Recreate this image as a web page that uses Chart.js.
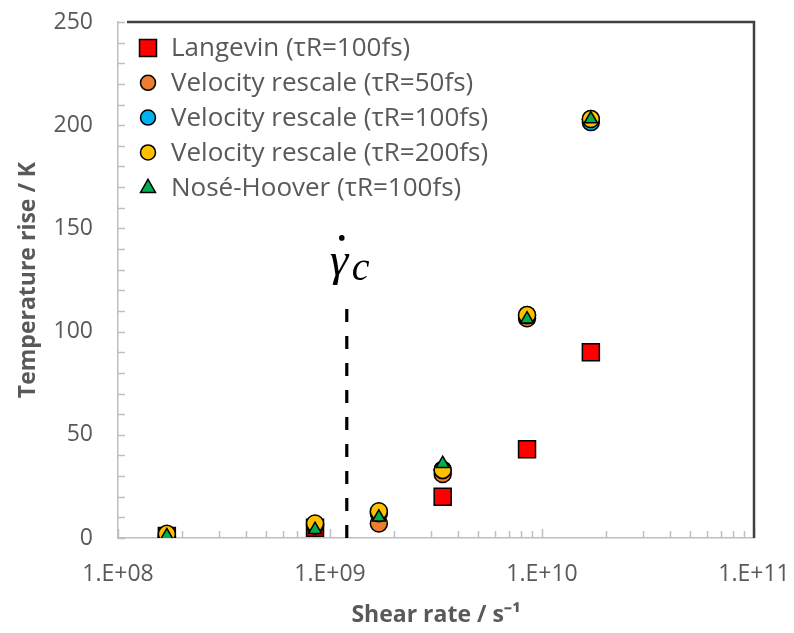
<!DOCTYPE html>
<html>
<head>
<meta charset="utf-8">
<script src="https://cdn.jsdelivr.net/npm/chart.js@4.4.1/dist/chart.umd.min.js"></script>
<style>
  html, body { margin: 0; padding: 0; background: #fff; }
  #wrap { width: 794px; height: 633px; }
</style>
</head>
<body>
<div id="wrap"><canvas id="tempChart" width="794" height="633"></canvas></div>
<script>
// shear rates (s^-1) of the simulations
const shearRates = [1.7e8, 8.5e8, 1.7e9, 3.4e9, 8.5e9, 1.7e10];

// temperature rise (K) per thermostat
const langevin   = [1, 5, null, 20, 43, 90];
const vr50       = [1, 6, 7, 31, 106.5, 203];
const vr100      = [1, 6.5, 12, 33, 108, 201.5];
const vr200      = [2, 7, 13, 33, 108, 203];
const noseHoover = [1, 4, 10, 36, 106, 203];

const seriesLabels = [
    'Langevin (τR=100fs)',
    'Velocity rescale (τR=50fs)',
    'Velocity rescale (τR=100fs)',
    'Velocity rescale (τR=200fs)',
    'Nosé-Hoover (τR=100fs)'
];

// critical shear rate marker
const criticalRate = 1.2e9;
const criticalLine = [0, 111];

// axis ticks
const xDecades = [1e8, 1e9, 1e10, 1e11];
const xMinorSteps = [1, 2, 3, 4, 5, 6, 7, 8, 9];
const yMax = 250;
const yMinorStep = 10;
const yLabelStep = 50;

const textGrey = '#595959';
const axisGrey = '#BFBFBF';
const fontFam = '"Open Sans", sans-serif';

function toPoints(ys) {
    return shearRates.map((x, i) => ({ x: x, y: ys[i] })).filter(p => p.y !== null);
}

function sci(v) {
    const e = Math.round(Math.log10(v));
    if (Math.abs(v / Math.pow(10, e) - 1) > 1e-9) return '';
    return '1.E+' + String(e).padStart(2, '0');
}

function drawMarker(ctx, shape, cx, cy, size, fill) {
    ctx.beginPath();
    if (shape === 'rect') {
        ctx.rect(cx - size / 2, cy - size / 2, size, size);
    } else if (shape === 'circle') {
        ctx.arc(cx, cy, size / 2, 0, Math.PI * 2);
    } else {
        const h = size * 0.87;
        ctx.moveTo(cx, cy - h * 0.6);
        ctx.lineTo(cx + size / 2, cy + h * 0.4);
        ctx.lineTo(cx - size / 2, cy + h * 0.4);
        ctx.closePath();
    }
    ctx.fillStyle = fill;
    ctx.fill();
    ctx.lineWidth = 1.5;
    ctx.strokeStyle = '#000';
    ctx.stroke();
}

// inward tick marks, top/right frame, legend, gamma-dot label
const extras = {
    id: 'extras',
    beforeDatasetsDraw(chart) {
        const { ctx, chartArea: a, scales: { x, y } } = chart;
        ctx.save();
        ctx.strokeStyle = axisGrey;
        ctx.lineWidth = 1.5;
        x.ticks.forEach(t => {
            const px = Math.round(x.getPixelForValue(t.value)) + 0.5;
            const len = sci(t.value) ? 9 : 7;
            ctx.beginPath();
            ctx.moveTo(px, a.bottom);
            ctx.lineTo(px, a.bottom - len);
            ctx.stroke();
        });
        y.ticks.forEach(t => {
            const py = Math.round(y.getPixelForValue(t.value)) + 0.5;
            ctx.beginPath();
            ctx.moveTo(a.left, py);
            ctx.lineTo(a.left + 7, py);
            ctx.stroke();
        });
        ctx.strokeStyle = '#404040';
        ctx.lineWidth = 2.5;
        ctx.beginPath();
        ctx.moveTo(a.left + 9, a.top);
        ctx.lineTo(a.right, a.top);
        ctx.lineTo(a.right, a.bottom);
        ctx.stroke();
        ctx.restore();
    },
    afterDraw(chart) {
        const { ctx, chartArea: a, scales: { x, y } } = chart;
        ctx.save();
        // legend
        const sizes = { rect: 17, circle: 15, triangle: 15 };
        ctx.font = '26px ' + fontFam;
        ctx.textBaseline = 'middle';
        chart.data.datasets.forEach((ds, i) => {
            if (i >= seriesLabels.length) return;
            const cy = a.top + 26 + i * 34.8;
            drawMarker(ctx, ds.pointStyle, a.left + 30, cy, sizes[ds.pointStyle], ds.backgroundColor);
            ctx.fillStyle = textGrey;
            ctx.fillText(ds.label, a.left + 53, cy + 1);
        });
        // critical shear rate label
        const px = x.getPixelForValue(criticalRate);
        const py = y.getPixelForValue(criticalLine[1]);
        ctx.fillStyle = '#000';
        ctx.textBaseline = 'alphabetic';
        ctx.font = 'italic 47px "Liberation Serif"';
        ctx.fillText('γ', px - 17, py - 34);
        ctx.font = 'italic 40px "Liberation Serif"';
        ctx.fillText('c', px + 5, py - 29);
        ctx.beginPath();
        ctx.arc(px - 5, py - 71, 2.8, 0, Math.PI * 2);
        ctx.fill();
        ctx.restore();
    }
};

const styles = [
    { bg: '#FF0000', shape: 'rect', r: 12, order: 5 },
    { bg: '#ED7D31', shape: 'circle', r: 8.5, order: 4 },
    { bg: '#00B0F0', shape: 'circle', r: 8.5, order: 3 },
    { bg: '#FFC000', shape: 'circle', r: 8.5, order: 2 },
    { bg: '#00B050', shape: 'triangle', r: 7.5, order: 1 }
];
const seriesValues = [langevin, vr50, vr100, vr200, noseHoover];

const datasets = seriesValues.map((vals, i) => ({
    label: seriesLabels[i],
    data: toPoints(vals),
    backgroundColor: styles[i].bg,
    borderColor: '#000',
    borderWidth: 1.5,
    pointStyle: styles[i].shape,
    pointRadius: styles[i].r,
    order: styles[i].order
}));

datasets.push({
    label: 'critical',
    type: 'line',
    data: criticalLine.map(v => ({ x: criticalRate, y: v })),
    borderColor: '#000',
    borderWidth: 3.2,
    borderDash: [13, 14],
    pointRadius: 0,
    fill: false,
    order: 6
});

const ctx = document.getElementById('tempChart').getContext('2d');
new Chart(ctx, {
    type: 'scatter',
    data: { datasets: datasets },
    options: {
        responsive: false,
        animation: false,
        devicePixelRatio: 1,
        layout: { padding: { top: 22, right: 40, left: 0, bottom: 0 } },
        scales: {
            x: {
                type: 'logarithmic',
                min: xDecades[0],
                max: xDecades[xDecades.length - 1],
                afterBuildTicks(scale) {
                    const t = [];
                    xDecades.forEach((d, i) => {
                        if (i === xDecades.length - 1) { t.push({ value: d }); return; }
                        xMinorSteps.forEach(m => t.push({ value: d * m }));
                    });
                    scale.ticks = t;
                },
                afterFit(scale) {
                    scale.height = 95;
                    scale.paddingLeft = 0;
                    scale.paddingRight = 0;
                },
                grid: { display: false },
                border: { display: true, color: axisGrey, width: 1.5 },
                ticks: {
                    autoSkip: false,
                    maxRotation: 0,
                    padding: 15,
                    color: textGrey,
                    font: { family: fontFam, size: 23 },
                    callback: v => sci(v)
                },
                title: {
                    display: true,
                    text: 'Shear rate / s⁻¹',
                    color: textGrey,
                    font: { family: fontFam, size: 23, weight: 'bold' },
                    padding: { top: 0, bottom: 4 }
                }
            },
            y: {
                min: 0,
                max: yMax,
                afterBuildTicks(scale) {
                    const t = [];
                    for (let v = 0; v <= yMax; v += yMinorStep) t.push({ value: v });
                    scale.ticks = t;
                },
                afterFit(scale) {
                    scale.width = 118;
                    scale.paddingTop = 0;
                    scale.paddingBottom = 0;
                },
                grid: { display: false, drawTicks: false },
                border: { display: true, color: axisGrey, width: 1.5 },
                ticks: {
                    autoSkip: false,
                    padding: 25,
                    color: textGrey,
                    font: { family: fontFam, size: 23 },
                    callback: v => (v % yLabelStep === 0 ? String(v) : '')
                },
                title: {
                    display: true,
                    text: 'Temperature rise / K',
                    color: textGrey,
                    font: { family: fontFam, size: 23, weight: 'bold' },
                    padding: { top: 15, bottom: 0 }
                }
            }
        },
        plugins: {
            legend: { display: false },
            tooltip: { enabled: false }
        }
    },
    plugins: [extras]
});
</script>
</body>
</html>
